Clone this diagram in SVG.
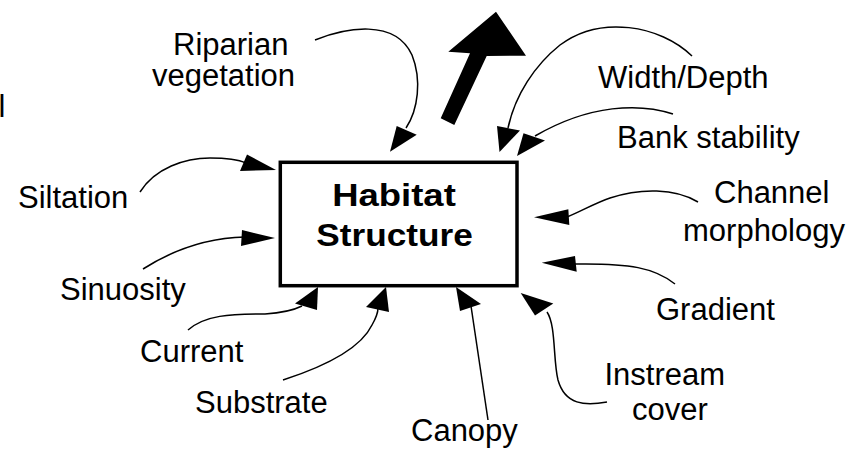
<svg xmlns="http://www.w3.org/2000/svg" width="863" height="452" viewBox="0 0 863 452">
  <style>
    .lbl { font-family: "Liberation Sans", Arial, sans-serif; font-size: 31px; fill: #000; }
    .title { font-family: "Liberation Sans", Arial, sans-serif; font-size: 32px; font-weight: bold; fill: #000; text-anchor: middle; }
    .wire { fill: none; stroke: #000; stroke-width: 1.5; }
    .head { fill: #000; stroke: none; }
  </style>
  <rect width="863" height="452" fill="#fff"/>

  <!-- central node -->
  <g id="habitat-structure">
    <rect x="280.3" y="162.3" width="236.7" height="123.4" fill="#fff" stroke="#000" stroke-width="3.5"/>
    <text class="title" transform="translate(394,206) scale(1.14,1)">Habitat</text>
    <text class="title" transform="translate(394.5,246) scale(1.1,1)">Structure</text>
  </g>

  <!-- influencing factors -->
  <g id="edge-cut"><text class="lbl" x="-1.5" y="117">l</text></g>
  <g id="riparian"><text class="lbl" x="173" y="55">Riparian</text><text class="lbl" x="152" y="86">vegetation</text></g>
  <g id="siltation"><text class="lbl" x="18" y="208">Siltation</text></g>
  <g id="sinuosity"><text class="lbl" x="60" y="300">Sinuosity</text></g>
  <g id="current"><text class="lbl" x="140" y="362">Current</text></g>
  <g id="substrate"><text class="lbl" x="195" y="413">Substrate</text></g>
  <g id="canopy"><text class="lbl" x="411" y="441">Canopy</text></g>
  <g id="instream-cover"><text class="lbl" x="604.5" y="385">Instream</text><text class="lbl" x="632" y="420">cover</text></g>
  <g id="gradient"><text class="lbl" x="656" y="320">Gradient</text></g>
  <g id="channel-morphology"><text class="lbl" x="714" y="203">Channel</text><text class="lbl" x="683" y="241">morphology</text></g>
  <g id="bank-stability"><text class="lbl" x="617" y="148">Bank stability</text></g>
  <g id="width-depth"><text class="lbl" x="598" y="88">Width/Depth</text></g>

  <!-- connectors -->
  <g id="connectors">
    <!-- output arrow -->
    <polygon class="head" points="440.7,118.3 470,53.3 448.3,51.7 496,11.7 526,55.7 486.7,56 454.3,125"/>

    <path class="wire" d="M315,40 C345,28 395,18 412,55 C422,80 418,110 406,128"/>
    <polygon class="head" points="390,151.7 396.7,126 416.7,134.7"/>

    <path class="wire" d="M140,192 C155,168 185,158 210,158 C225,158 237,159 246,163"/>
    <polygon class="head" points="276,170 247,154.5 240,171"/>

    <path class="wire" d="M143,269 C165,255 200,238 245,237"/>
    <polygon class="head" points="275,238 242,230 241,246"/>

    <path class="wire" d="M188,330 C205,315 230,314 265,314 C280,313 292,311 302,306"/>
    <polygon class="head" points="318,287 295,303.5 317,310"/>

    <path class="wire" d="M283,380 C320,368 360,350 372,325 C376,318 378,312 378,308"/>
    <polygon class="head" points="386,287 366,307 389,312"/>

    <path class="wire" d="M488,420 L471,306"/>
    <polygon class="head" points="456,287 460,311 481,304"/>

    <path class="wire" d="M607,402 C585,406 565,405 558,380 C553,360 556,325 547,312"/>
    <polygon class="head" points="520.7,293 535,315.5 553.3,303.5"/>

    <path class="wire" d="M675,284 C655,268 630,263 574,264"/>
    <polygon class="head" points="541.7,262.7 575,256 576.7,271.7"/>

    <path class="wire" d="M698,202 C675,188 640,188 610,198 C595,203 580,212 567,217"/>
    <polygon class="head" points="534,217.3 568.3,209.3 569.3,225"/>

    <path class="wire" d="M673,114 C640,103 590,104 535,136"/>
    <polygon class="head" points="517,156 523.5,133.3 545,140.5"/>

    <path class="wire" d="M692,56 C660,25 600,15 560,45 C535,65 515,95 508,128"/>
    <polygon class="head" points="499.5,152 497,126 520,130.5"/>
  </g>
</svg>
